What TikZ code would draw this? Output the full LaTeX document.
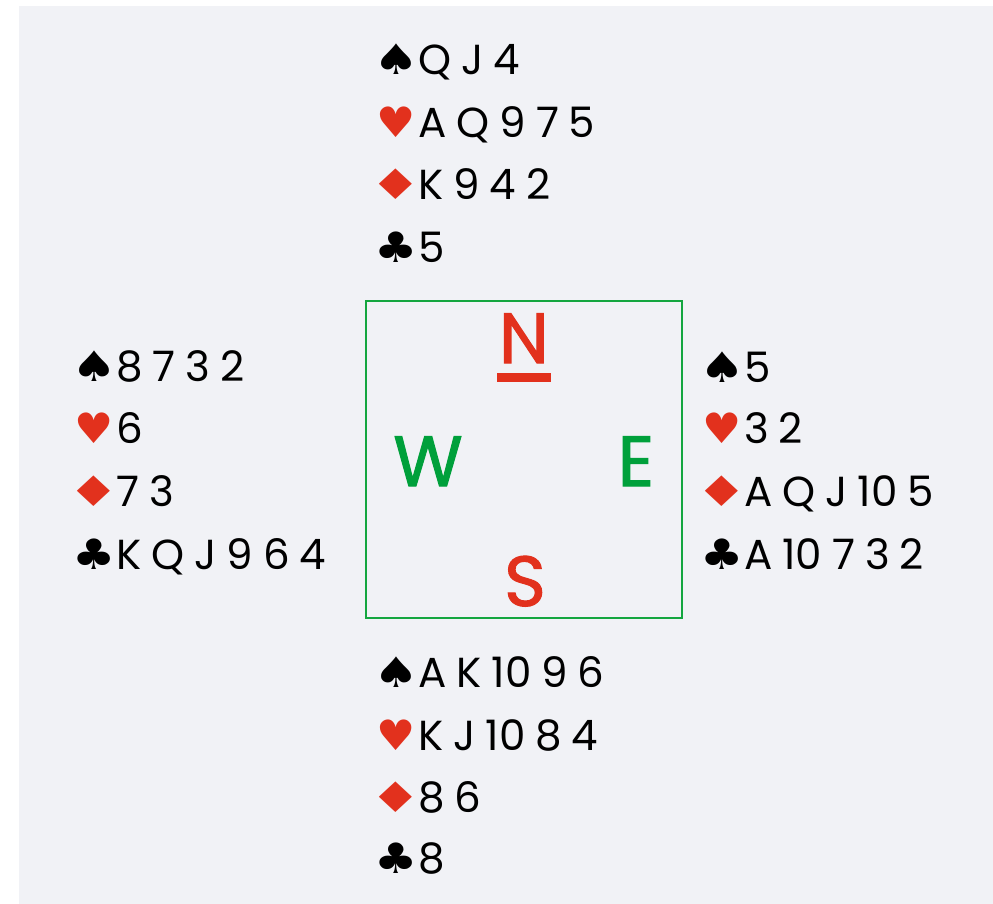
\documentclass[tikz,border=0pt]{standalone}
\usepackage{graphicx}
\usepackage{fontspec}
\setmainfont{Poppins}
\newfontfamily\suitfont{DejaVu Sans}
\newfontfamily\dirfont{Poppins}[FakeBold=1.5]
\definecolor{cred}{HTML}{E2311D}
\definecolor{cgreen}{HTML}{00A03B}
\definecolor{cbox}{HTML}{14A63F}
\definecolor{cbg}{HTML}{F1F2F6}
\newcommand\cg{\hspace{10pt}}
\newcommand\suitglyph[2]{\makebox[32pt][c]{\scalebox{#1}[1]{\suitfont\fontsize{42}{42}\selectfont #2}}\hspace{6pt}}
\newcommand\suitS{\suitglyph{1.22}{♠}}
\newcommand\suitH{\suitglyph{1.04}{\color{cred}♥}}
\newcommand\suitD{\suitglyph{1.4}{\color{cred}♦}}
\newcommand\suitC{\suitglyph{1.15}{♣}}
\begin{document}
\begin{tikzpicture}[x=1pt,y=-1pt,
  handline/.style={anchor=base west, inner sep=0pt, font=\fontsize{42}{42}\selectfont},
  dirletter/.style={anchor=base, inner sep=0pt, font=\dirfont\fontsize{71}{71}\selectfont}]
\useasboundingbox (0,0) rectangle (993,904);
\fill[white] (0,0) rectangle (993,904);
\fill[cbg] (19,6) rectangle (993,904);
% compass box
\draw[cbox, line width=2pt] (366,301) rectangle (682,618);
\node[dirletter, text=cred] (N) at (524,363) {N};
\fill[cred] (497,373) rectangle (551,382);
\node[dirletter, text=cgreen] (W) at (428,486) {W};
\node[dirletter, text=cgreen] (E) at (636,486) {E};
\node[dirletter, text=cred] (S) at (525,606) {S};
% North
\node[handline] (n1) at (380,75) {\suitS Q\cg J\cg 4};
\node[handline] (n2) at (380,138) {\suitH A\cg Q\cg 9\cg 7\cg 5};
\node[handline] (n3) at (380,200) {\suitD K\cg 9\cg 4\cg 2};
\node[handline] (n4) at (380,262) {\suitC 5};
% West
\node[handline] (w1) at (78,381) {\suitS 8\cg 7\cg 3\cg 2};
\node[handline] (w2) at (78,443) {\suitH 6};
\node[handline] (w3) at (78,506) {\suitD 7\cg 3};
\node[handline] (w4) at (78,569) {\suitC K\cg Q\cg J\cg 9\cg 6\cg 4};
% East
\node[handline] (e1) at (706,382) {\suitS 5};
\node[handline] (e2) at (706,443) {\suitH 3\cg 2};
\node[handline] (e3) at (706,506) {\suitD A\cg Q\cg J\cg 10\cg 5};
\node[handline] (e4) at (706,569) {\suitC A\cg 10\cg 7\cg 3\cg 2};
% South
\node[handline] (s1) at (380,687) {\suitS A\cg K\cg 10\cg 9\cg 6};
\node[handline] (s2) at (380,750) {\suitH K\cg J\cg 10\cg 8\cg 4};
\node[handline] (s3) at (380,812) {\suitD 8\cg 6};
\node[handline] (s4) at (380,873) {\suitC 8};
\end{tikzpicture}
\end{document}
